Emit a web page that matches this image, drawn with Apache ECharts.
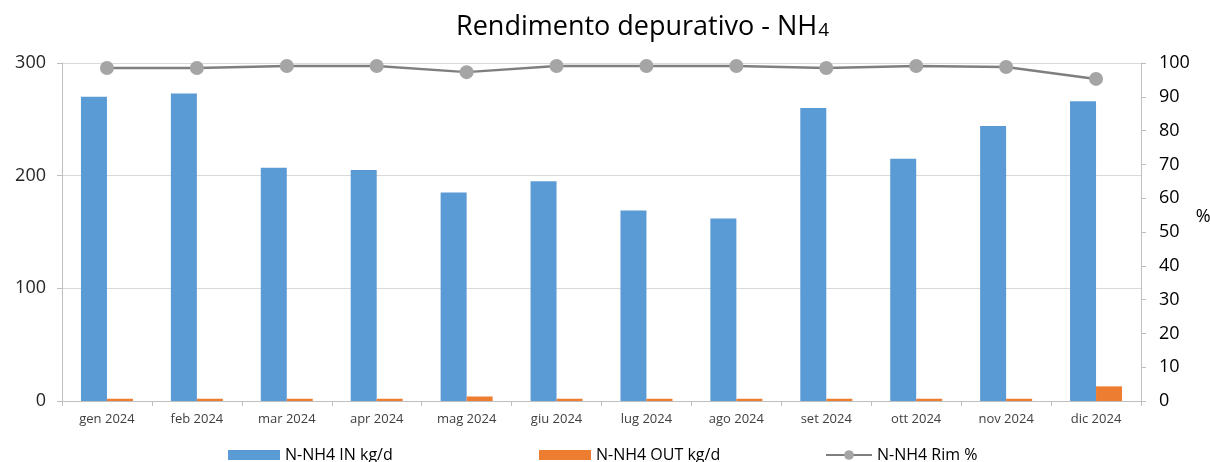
<!DOCTYPE html>
<html><head><meta charset="utf-8">
<script src="https://cdn.jsdelivr.net/npm/echarts@6/dist/echarts.min.js"></script>
<style>html,body{margin:0;padding:0;background:#fff}#c{width:1210px;height:462px}</style>
</head><body><div id="c"></div>
<script>
const categories = ['gen 2024','feb 2024','mar 2024','apr 2024','mag 2024','giu 2024','lug 2024','ago 2024','set 2024','ott 2024','nov 2024','dic 2024'];
const nh4In = [270, 273, 207, 205, 185, 195, 169, 162, 260, 215, 244, 266];
const nh4Out = [2, 2, 2, 2, 4, 2, 2, 2, 2, 2, 2, 13];
const nh4Rim = [98.5, 98.5, 99.1, 99.1, 97.3, 99.1, 99.1, 99.1, 98.5, 99.1, 98.8, 95.3];
const seriesNames = ['N-NH4 IN kg/d', 'N-NH4 OUT kg/d', 'N-NH4 Rim %'];

const font = 'Open Sans, Liberation Sans, Arial, sans-serif';
const chart = echarts.init(document.getElementById('c'));
chart.setOption({
  animation: false,
  textStyle: {fontFamily: font},
  title: {
    text: '{a|Rendimento depurativo - NH}{b|4}',
    left: 451, top: 9,
    textStyle: {fontWeight: 'normal', rich: {
      a: {fontSize: 27, color: '#000', fontFamily: font, fontWeight: 'normal'},
      b: {fontSize: 19, color: '#000', fontFamily: font, fontWeight: 'normal', padding: [7,0,0,1]}
    }}
  },
  legend: [
    {data: [seriesNames[0]], left: 223, top: 442, icon: 'rect', itemWidth: 52, itemHeight: 10, textStyle: {fontSize: 16, color: '#000'}},
    {data: [seriesNames[1]], left: 534, top: 442, icon: 'rect', itemWidth: 52, itemHeight: 10, textStyle: {fontSize: 16, color: '#000'}},
    {data: [seriesNames[2]], left: 820, top: 442, itemWidth: 46, itemHeight: 12, textStyle: {fontSize: 16, color: '#000'}}
  ],
  grid: {left: 62, right: 69, top: 63, bottom: 61, outerBoundsMode: 'none', containLabel: false},
  xAxis: {
    type: 'category', data: categories,
    axisLine: {lineStyle: {color: '#bfbfbf'}},
    axisTick: {show: true, length: 5, lineStyle: {color: '#bfbfbf'}},
    axisLabel: {fontSize: 13, color: '#404040', margin: 12}
  },
  yAxis: [
    {type: 'value', min: 0, max: 300, interval: 100,
     axisLine: {show: true, lineStyle: {color: '#bfbfbf'}},
     axisTick: {show: true, length: 5, lineStyle: {color: '#bfbfbf'}},
     axisLabel: {fontSize: 18, color: '#262626', margin: 16},
     splitLine: {lineStyle: {color: '#d9d9d9'}}},
    {type: 'value', min: 0, max: 100, interval: 10, position: 'right',
     name: '%', nameLocation: 'middle', nameRotate: 0, nameGap: 53,
     nameTextStyle: {fontSize: 18, color: '#000', verticalAlign: 'bottom', padding: [0,0,6,0]},
     axisLine: {show: true, lineStyle: {color: '#bfbfbf'}},
     axisTick: {show: true, length: 5, lineStyle: {color: '#bfbfbf'}},
     axisLabel: {fontSize: 18, color: '#000', margin: 18},
     splitLine: {show: false}}
  ],
  series: [
    {name: seriesNames[0], type: 'bar', data: nh4In, barWidth: 26, barGap: '0%', itemStyle: {color: '#5b9bd5'}},
    {name: seriesNames[1], type: 'bar', data: nh4Out, barWidth: 26, itemStyle: {color: '#ed7d31'}},
    {name: seriesNames[2], type: 'line', yAxisIndex: 1, data: nh4Rim, symbol: 'circle', symbolSize: 14,
     lineStyle: {color: '#7f7f7f', width: 2.5}, itemStyle: {color: '#a5a5a5'}}
  ]
});
</script></body></html>
